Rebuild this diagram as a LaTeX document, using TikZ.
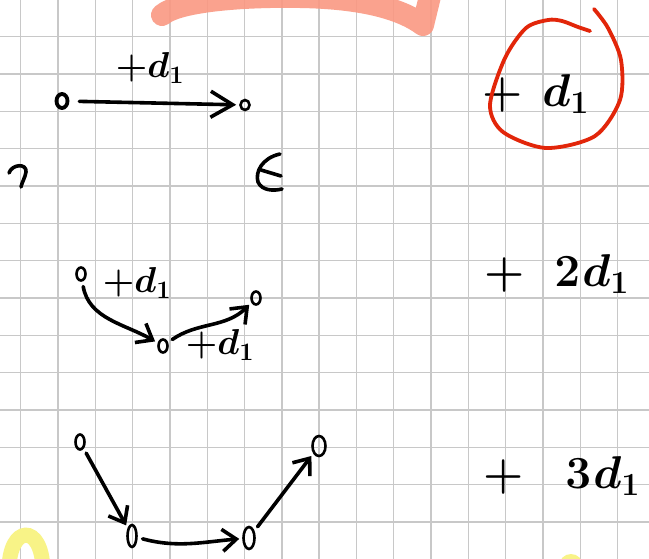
\RequirePackage{fix-cm}
\documentclass[tikz,border=0pt]{standalone}
\usetikzlibrary{arrows.meta,positioning,shapes}

\definecolor{gridgray}{RGB}{200,200,200}
\definecolor{penred}{RGB}{226,38,10}
\definecolor{marker}{RGB}{250,152,130}
\definecolor{hiyellow}{RGB}{248,243,135}

\tikzset{
  vert/.style={draw,ellipse,line width=2.6pt,inner sep=0pt,minimum width=9pt,minimum height=13pt},
  ink/.style={line width=3.6pt,line cap=round,line join=round},
  arr/.style={ink,shorten <=5pt,shorten >=3pt,-{Straight Barb[length=14pt,width=22pt]}},
  hand/.style={font=\fontsize{36}{36}\selectfont\boldmath,inner sep=0pt},
  big/.style={font=\fontsize{46}{46}\selectfont\boldmath,inner sep=0pt,anchor=west},
  gridline/.style={gridgray,line width=1.4pt}
}

\begin{document}
\begin{tikzpicture}[x=1pt,y=1pt]
\useasboundingbox (0,0) rectangle (649,-559);
\clip (0,0) rectangle (649,-559);
\fill[white] (0,0) rectangle (649,-559);

% grid paper
\foreach \i in {0,...,16}
  \draw[gridline] ({20.7+37.3*\i},0) -- ({20.7+37.3*\i},-559);
\foreach \j in {0,...,13}
  \draw[gridline] (0,{-36.7-37.33*\j}) -- (649,{-36.7-37.33*\j});

% highlighter marks
\draw[marker,opacity=.9,line width=22pt,line cap=round,line join=round]
  (162,-15) .. controls (180,0) and (250,4) .. (300,3)
  .. controls (360,2) and (400,-8) .. (423,-25) -- (432,12);
\draw[hiyellow,line width=15pt] (9,-570) .. controls (9,-525) and (42,-522) .. (43,-570);
\fill[hiyellow] (571,-566) circle (12);

% row 1
\node[vert,line width=3.8pt,minimum width=11pt,minimum height=14pt] (a1) at (62,-101) {};
\node[vert,minimum width=9pt,minimum height=10pt] (b1) at (245,-105) {};
\draw[arr,shorten <=10pt,-{Straight Barb[length=22pt,width=26pt]}] (a1) -- (b1);
\node[hand] (l1) at (150,-68) {$+d_1$};

% stray marks
\draw[ink] (9,-173) .. controls (12,-164) and (27,-163) .. (26,-172)
  .. controls (25,-178) and (22,-182) .. (21,-187);
\draw[ink] (280,-154) .. controls (262,-158) and (255,-172) .. (258,-182)
  .. controls (262,-191) and (274,-191) .. (282,-189);
\draw[ink] (261,-170) -- (281,-176);

% row 2
\node[vert] (a2) at (81,-274) {};
\node[vert] (b2) at (163,-346) {};
\node[vert] (c2) at (256,-298) {};
\draw[arr] (a2) to[out=-80,in=150] (b2);
\draw[arr] (b2) to[out=35,in=-135] (c2);
\node[hand] (l2) at (137,-283) {$+d_1$};
\node[hand] (l3) at (220,-345) {$+d_1$};

% row 3
\node[vert,minimum height=15pt] (a3) at (80,-442) {};
\node[vert,minimum height=22pt] (b3) at (132,-536) {};
\node[vert,minimum width=11pt,minimum height=22pt] (c3) at (249,-538) {};
\node[vert,minimum width=13pt,minimum height=20pt] (d3) at (319,-446) {};
\draw[arr] (a3) -- (b3);
\draw[arr] (b3) to[out=-15,in=185] (c3);
\draw[arr] (c3) -- (d3);

% sums on the right
\node[big] (s1) at (482,-94) {$+$\hspace{20pt}$d_1$};
\node[big] (s2) at (484,-274) {$+$\hspace{30pt}$2$\hspace{2pt}$d_1$};
\node[big] (s3) at (483,-476) {$+$\hspace{42pt}$3$\hspace{2pt}$d_1$};
\draw[penred,line width=3.8pt,line cap=round]
  plot[smooth] coordinates {(590,-31) (578,-27) (562,-21) (548,-20) (526,-28)
  (505,-58) (490,-105) (503,-132) (546,-148) (595,-136) (620,-100)
  (621,-60) (608,-28) (594,-9)};
\end{tikzpicture}
\end{document}
